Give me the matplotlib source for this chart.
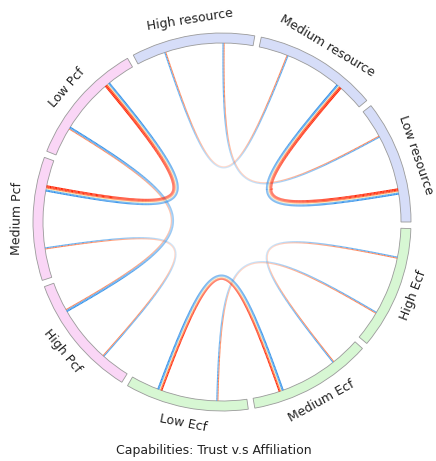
import numpy as np
import matplotlib
matplotlib.use('Agg')
import matplotlib.pyplot as plt
from matplotlib.collections import LineCollection
from matplotlib.patches import Wedge
from matplotlib.colors import LinearSegmentedColormap

# nodes, counter-clockwise from 0 degrees
nodes = ['Low resource', 'Medium resource', 'High resource',
         'Low Pcf', 'Medium Pcf', 'High Pcf',
         'Low Ecf', 'Medium Ecf', 'High Ecf']
groups = ['resource'] * 3 + ['Pcf'] * 3 + ['Ecf'] * 3
group_colors = {'resource': '#d6ddf8', 'Pcf': '#fad6f6', 'Ecf': '#d7f7d3'}

# links between nodes: trust (red band) and affiliation (blue band)
link_src = [0, 0, 1, 3, 3, 4, 6, 6, 7]
link_dst = [1, 2, 2, 4, 5, 5, 7, 8, 8]
trust = [3.5, 1.2, 0.8, 3.5, 1.4, 0.8, 3.0, 1.0, 1.0]
affiliation = [1.8, 1.0, 0.8, 2.0, 2.0, 0.8, 2.0, 1.0, 0.8]

title = 'Capabilities: Trust v.s Affiliation'

W, H = 436, 461
cx, cy = 222, 222          # circle centre in pixels
scale = 179.0              # pixels per unit radius
ring = 10 / scale
seg = 360 / len(nodes)
gap = 2.0

red_cmap = LinearSegmentedColormap.from_list('trust', ['#fff0b0', '#ff9060', '#ff4010', '#ff2200'])
blue_cmap = LinearSegmentedColormap.from_list('affil', ['#fff0b0', '#8cc4f4', '#3c9aee', '#2a8ce8'])

fig = plt.figure(figsize=(W / 100, H / 100), dpi=100)
ax = fig.add_axes([0, 0, 1, 1])
ax.set_xlim(-cx / scale, (W - cx) / scale)
ax.set_ylim(-(H - cy) / scale, cy / scale)
ax.axis('off')

# arcs and labels
for i, name in enumerate(nodes):
    t1 = i * seg
    t2 = t1 + seg - gap
    ax.add_patch(Wedge((0, 0), 1 + ring, t1, t2, width=ring,
                       facecolor=group_colors[groups[i]], edgecolor='#9a9a9a', lw=0.6))
    mid = (t1 + t2) / 2
    rot = mid - 90 if mid < 180 else mid + 90
    r = 1.145
    ax.text(r * np.cos(np.radians(mid)), r * np.sin(np.radians(mid)), name,
            rotation=rot, rotation_mode='anchor', ha='center', va='center',
            fontsize=9, color='#222222')

# slot positions: each node's links ordered by partner index
slots = {}
for i in range(len(nodes)):
    partners = sorted([(d if s == i else s, k) for k, (s, d) in enumerate(zip(link_src, link_dst)) if i in (s, d)])
    n = len(partners)
    for j, (p, k) in enumerate(partners):
        slots[(i, k)] = i * seg + (j + 0.5) * (seg - gap) / n


def bezier(a0, a1, f=0.1, npts=300):
    p0 = np.array([np.cos(a0), np.sin(a0)])
    p3 = np.array([np.cos(a1), np.sin(a1)])
    p1, p2 = f * p0, f * p3
    t = np.linspace(0, 1, npts)[:, None]
    return ((1 - t) ** 3 * p0 + 3 * (1 - t) ** 2 * t * p1
            + 3 * (1 - t) * t ** 2 * p2 + t ** 3 * p3)


spacing = 1.05 / scale     # strand spacing, data units
order = np.argsort([t + a for t, a in zip(trust, affiliation)])
for k in order:
    s, d = link_src[k], link_dst[k]
    a0 = np.radians(slots[(s, k)])
    a1 = np.radians(slots[(d, k)])
    centre = bezier(a0, a1)
    tang = np.gradient(centre, axis=0)
    tang /= np.linalg.norm(tang, axis=1, keepdims=True)
    normal = np.column_stack([-tang[:, 1], tang[:, 0]])

    total = trust[k] + affiliation[k]
    fade = np.clip(0.9 - 0.12 * total, 0.3, 0.75)
    strands = []
    n_t = max(1, int(round(trust[k])))
    for j in range(n_t):
        pos = (j + 0.8) / 2.0 if n_t < 3 else j / 2.0
        strands.append((-(j + 0.5), red_cmap(min(1.0, pos))))
    for j in range(max(1, int(round(affiliation[k])))):
        strands.append((j + 0.5, blue_cmap(min(1.0, (j + 1.0) / 1.8))))
    for off, col in strands:
        pts = centre + off * spacing * normal
        segs = np.stack([pts[:-1], pts[1:]], axis=1)
        tm = np.linspace(0, 1, len(segs))
        colors = np.tile(np.array(col), (len(segs), 1))
        colors[:, 3] = 1 - fade * np.sin(np.pi * tm) ** 2
        ax.add_collection(LineCollection(segs, colors=colors, linewidths=0.8, capstyle='butt'))

fig.text(214 / W, 1 - 450 / H, title, ha='center', va='center', fontsize=9, color='#222222')

fig.savefig('out.png', dpi=100)
